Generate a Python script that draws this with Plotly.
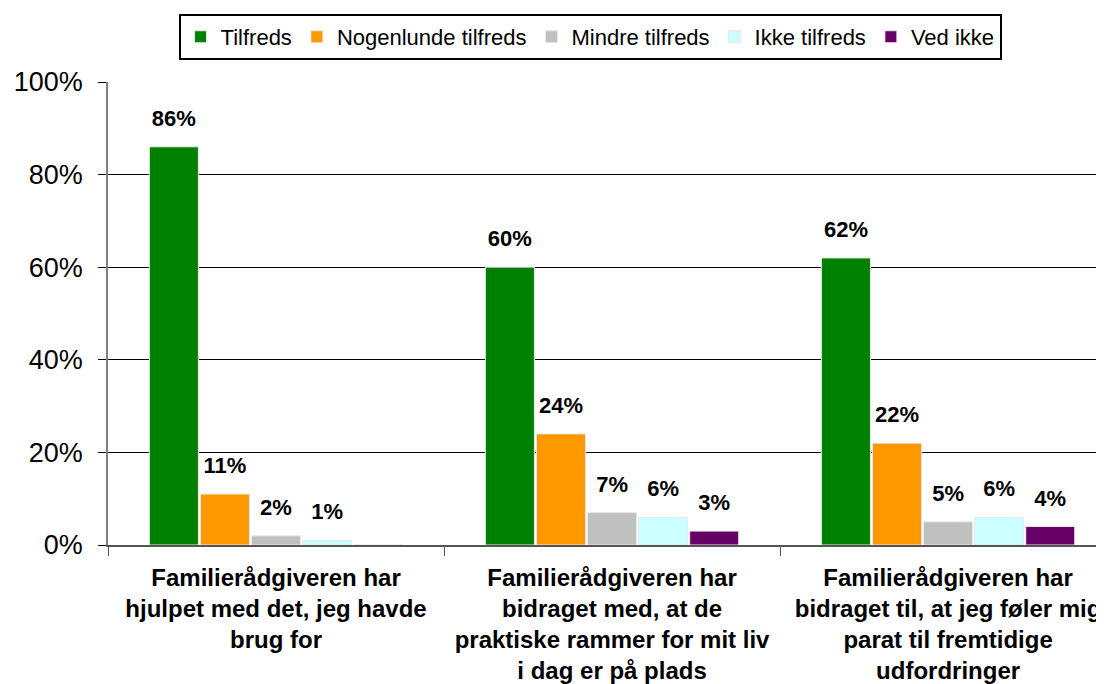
import plotly.graph_objects as go

categories = [
    "Familierådgiveren har<br>hjulpet med det, jeg havde<br>brug for",
    "Familierådgiveren har<br>bidraget med, at de<br>praktiske rammer for mit liv<br>i dag er på plads",
    "Familierådgiveren har<br>bidraget til, at jeg føler mig<br>parat til fremtidige<br>udfordringer",
]
series_names = ["Tilfreds", "Nogenlunde tilfreds", "Mindre tilfreds", "Ikke tilfreds", "Ved ikke"]
tilfreds = [86, 60, 62]
nogenlunde = [11, 24, 22]
mindre = [2, 7, 5]
ikke = [1, 6, 6]
ved_ikke = [0, 3, 4]
y_ticks = [0, 20, 40, 60, 80, 100]
y_tick_labels = ["0%", "20%", "40%", "60%", "80%", "100%"]

series_values = [tilfreds, nogenlunde, mindre, ikke, ved_ikke]
colors = ["#008000", "#FF9900", "#C0C0C0", "#CCFFFF", "#660066"]

FONT = "Liberation Sans, Arial, sans-serif"
GAP = 0.24

fig = go.Figure()
for name, vals, col in zip(series_names, series_values, colors):
    fig.add_trace(go.Bar(
        name=name,
        x=categories,
        y=vals,
        offsetgroup=name,
        marker=dict(color=col, line=dict(color="#E8E8E8", width=1)),
        hoverinfo="skip",
    ))
for name, vals in zip(series_names, series_values):
    fig.add_trace(go.Scatter(
        x=categories,
        y=vals,
        mode="markers+text",
        orientation="v",
        offsetgroup=name,
        text=[f"<b>{v}%</b>" if v > 0 else "" for v in vals],
        textposition="top center",
        textfont=dict(family=FONT, size=22, color="black"),
        marker=dict(size=23, opacity=0, color="white"),
        showlegend=False,
        cliponaxis=False,
        hoverinfo="skip",
    ))

fig.update_layout(
    width=1096, height=676,
    barmode="group",
    bargap=GAP,
    bargroupgap=0.04,
    scattermode="group",
    scattergap=GAP,
    plot_bgcolor="white",
    paper_bgcolor="white",
    margin=dict(l=100, r=0, t=74, b=139),
    font=dict(family=FONT, color="black"),
    showlegend=True,
    legend=dict(
        orientation="h",
        x=0.484, xanchor="center",
        y=1.147, yanchor="top",
        bordercolor="black", borderwidth=2,
        font=dict(family=FONT, size=22, color="black"),
        traceorder="normal",
    ),
)

fig.update_xaxes(
    range=[-0.5, 2.464],
    tickson="boundaries",
    ticks="outside", ticklen=9, tickcolor="#555555",
    showline=True, linecolor="#555555", linewidth=1.5,
    tickfont=dict(family=FONT, size=24, color="black", weight="bold"),
    ticklabelstandoff=10,
    showgrid=False,
)
fig.update_yaxes(
    range=[0, 100],
    tickvals=y_ticks, ticktext=y_tick_labels,
    ticks="outside", ticklen=8, tickcolor="black",
    showline=True, linecolor="#808080", linewidth=1.5,
    showgrid=True, gridcolor="black", gridwidth=1,
    zeroline=False,
    tickfont=dict(family=FONT, size=27, color="black"),
    ticklabelstandoff=10,
)

fig.write_html("out.html")
